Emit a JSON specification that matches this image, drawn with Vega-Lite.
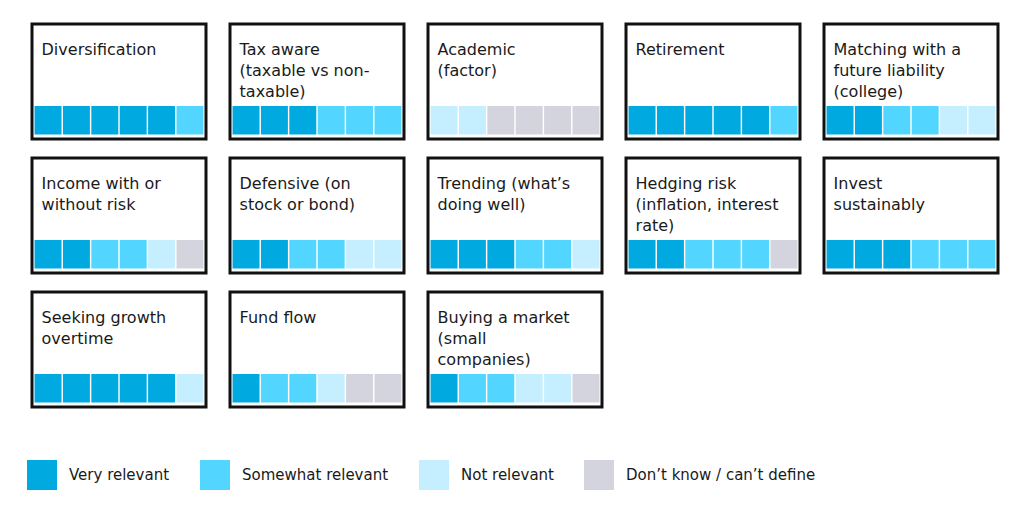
{
  "$schema": "https://vega.github.io/schema/vega-lite/v6.json",
  "padding": {"left": 27, "top": 22, "right": 0, "bottom": 0},
  "background": "white",
  "config": {
    "view": {"stroke": "#111111", "strokeWidth": 3},
    "font": "DejaVu Sans"
  },
  "data": {"values": [
    {"card": 1, "label": "Diversification", "pos": 1, "level": "Very relevant"},
    {"card": 1, "label": "Diversification", "pos": 2, "level": "Very relevant"},
    {"card": 1, "label": "Diversification", "pos": 3, "level": "Very relevant"},
    {"card": 1, "label": "Diversification", "pos": 4, "level": "Very relevant"},
    {"card": 1, "label": "Diversification", "pos": 5, "level": "Very relevant"},
    {"card": 1, "label": "Diversification", "pos": 6, "level": "Somewhat relevant"},
    {"card": 2, "label": "Tax aware\n(taxable vs non-\ntaxable)", "pos": 1, "level": "Very relevant"},
    {"card": 2, "label": "Tax aware\n(taxable vs non-\ntaxable)", "pos": 2, "level": "Very relevant"},
    {"card": 2, "label": "Tax aware\n(taxable vs non-\ntaxable)", "pos": 3, "level": "Very relevant"},
    {"card": 2, "label": "Tax aware\n(taxable vs non-\ntaxable)", "pos": 4, "level": "Somewhat relevant"},
    {"card": 2, "label": "Tax aware\n(taxable vs non-\ntaxable)", "pos": 5, "level": "Somewhat relevant"},
    {"card": 2, "label": "Tax aware\n(taxable vs non-\ntaxable)", "pos": 6, "level": "Somewhat relevant"},
    {"card": 3, "label": "Academic\n(factor)", "pos": 1, "level": "Not relevant"},
    {"card": 3, "label": "Academic\n(factor)", "pos": 2, "level": "Not relevant"},
    {"card": 3, "label": "Academic\n(factor)", "pos": 3, "level": "Don’t know / can’t define"},
    {"card": 3, "label": "Academic\n(factor)", "pos": 4, "level": "Don’t know / can’t define"},
    {"card": 3, "label": "Academic\n(factor)", "pos": 5, "level": "Don’t know / can’t define"},
    {"card": 3, "label": "Academic\n(factor)", "pos": 6, "level": "Don’t know / can’t define"},
    {"card": 4, "label": "Retirement", "pos": 1, "level": "Very relevant"},
    {"card": 4, "label": "Retirement", "pos": 2, "level": "Very relevant"},
    {"card": 4, "label": "Retirement", "pos": 3, "level": "Very relevant"},
    {"card": 4, "label": "Retirement", "pos": 4, "level": "Very relevant"},
    {"card": 4, "label": "Retirement", "pos": 5, "level": "Very relevant"},
    {"card": 4, "label": "Retirement", "pos": 6, "level": "Somewhat relevant"},
    {"card": 5, "label": "Matching with a\nfuture liability\n(college)", "pos": 1, "level": "Very relevant"},
    {"card": 5, "label": "Matching with a\nfuture liability\n(college)", "pos": 2, "level": "Very relevant"},
    {"card": 5, "label": "Matching with a\nfuture liability\n(college)", "pos": 3, "level": "Somewhat relevant"},
    {"card": 5, "label": "Matching with a\nfuture liability\n(college)", "pos": 4, "level": "Somewhat relevant"},
    {"card": 5, "label": "Matching with a\nfuture liability\n(college)", "pos": 5, "level": "Not relevant"},
    {"card": 5, "label": "Matching with a\nfuture liability\n(college)", "pos": 6, "level": "Not relevant"},
    {"card": 6, "label": "Income with or\nwithout risk", "pos": 1, "level": "Very relevant"},
    {"card": 6, "label": "Income with or\nwithout risk", "pos": 2, "level": "Very relevant"},
    {"card": 6, "label": "Income with or\nwithout risk", "pos": 3, "level": "Somewhat relevant"},
    {"card": 6, "label": "Income with or\nwithout risk", "pos": 4, "level": "Somewhat relevant"},
    {"card": 6, "label": "Income with or\nwithout risk", "pos": 5, "level": "Not relevant"},
    {"card": 6, "label": "Income with or\nwithout risk", "pos": 6, "level": "Don’t know / can’t define"},
    {"card": 7, "label": "Defensive (on\nstock or bond)", "pos": 1, "level": "Very relevant"},
    {"card": 7, "label": "Defensive (on\nstock or bond)", "pos": 2, "level": "Very relevant"},
    {"card": 7, "label": "Defensive (on\nstock or bond)", "pos": 3, "level": "Somewhat relevant"},
    {"card": 7, "label": "Defensive (on\nstock or bond)", "pos": 4, "level": "Somewhat relevant"},
    {"card": 7, "label": "Defensive (on\nstock or bond)", "pos": 5, "level": "Not relevant"},
    {"card": 7, "label": "Defensive (on\nstock or bond)", "pos": 6, "level": "Not relevant"},
    {"card": 8, "label": "Trending (what’s\ndoing well)", "pos": 1, "level": "Very relevant"},
    {"card": 8, "label": "Trending (what’s\ndoing well)", "pos": 2, "level": "Very relevant"},
    {"card": 8, "label": "Trending (what’s\ndoing well)", "pos": 3, "level": "Very relevant"},
    {"card": 8, "label": "Trending (what’s\ndoing well)", "pos": 4, "level": "Somewhat relevant"},
    {"card": 8, "label": "Trending (what’s\ndoing well)", "pos": 5, "level": "Somewhat relevant"},
    {"card": 8, "label": "Trending (what’s\ndoing well)", "pos": 6, "level": "Not relevant"},
    {"card": 9, "label": "Hedging risk\n(inflation, interest\nrate)", "pos": 1, "level": "Very relevant"},
    {"card": 9, "label": "Hedging risk\n(inflation, interest\nrate)", "pos": 2, "level": "Very relevant"},
    {"card": 9, "label": "Hedging risk\n(inflation, interest\nrate)", "pos": 3, "level": "Somewhat relevant"},
    {"card": 9, "label": "Hedging risk\n(inflation, interest\nrate)", "pos": 4, "level": "Somewhat relevant"},
    {"card": 9, "label": "Hedging risk\n(inflation, interest\nrate)", "pos": 5, "level": "Somewhat relevant"},
    {"card": 9, "label": "Hedging risk\n(inflation, interest\nrate)", "pos": 6, "level": "Don’t know / can’t define"},
    {"card": 10, "label": "Invest\nsustainably", "pos": 1, "level": "Very relevant"},
    {"card": 10, "label": "Invest\nsustainably", "pos": 2, "level": "Very relevant"},
    {"card": 10, "label": "Invest\nsustainably", "pos": 3, "level": "Very relevant"},
    {"card": 10, "label": "Invest\nsustainably", "pos": 4, "level": "Somewhat relevant"},
    {"card": 10, "label": "Invest\nsustainably", "pos": 5, "level": "Somewhat relevant"},
    {"card": 10, "label": "Invest\nsustainably", "pos": 6, "level": "Somewhat relevant"},
    {"card": 11, "label": "Seeking growth\novertime", "pos": 1, "level": "Very relevant"},
    {"card": 11, "label": "Seeking growth\novertime", "pos": 2, "level": "Very relevant"},
    {"card": 11, "label": "Seeking growth\novertime", "pos": 3, "level": "Very relevant"},
    {"card": 11, "label": "Seeking growth\novertime", "pos": 4, "level": "Very relevant"},
    {"card": 11, "label": "Seeking growth\novertime", "pos": 5, "level": "Very relevant"},
    {"card": 11, "label": "Seeking growth\novertime", "pos": 6, "level": "Not relevant"},
    {"card": 12, "label": "Fund flow", "pos": 1, "level": "Very relevant"},
    {"card": 12, "label": "Fund flow", "pos": 2, "level": "Somewhat relevant"},
    {"card": 12, "label": "Fund flow", "pos": 3, "level": "Somewhat relevant"},
    {"card": 12, "label": "Fund flow", "pos": 4, "level": "Not relevant"},
    {"card": 12, "label": "Fund flow", "pos": 5, "level": "Don’t know / can’t define"},
    {"card": 12, "label": "Fund flow", "pos": 6, "level": "Don’t know / can’t define"},
    {"card": 13, "label": "Buying a market\n(small\ncompanies)", "pos": 1, "level": "Very relevant"},
    {"card": 13, "label": "Buying a market\n(small\ncompanies)", "pos": 2, "level": "Somewhat relevant"},
    {"card": 13, "label": "Buying a market\n(small\ncompanies)", "pos": 3, "level": "Somewhat relevant"},
    {"card": 13, "label": "Buying a market\n(small\ncompanies)", "pos": 4, "level": "Not relevant"},
    {"card": 13, "label": "Buying a market\n(small\ncompanies)", "pos": 5, "level": "Not relevant"},
    {"card": 13, "label": "Buying a market\n(small\ncompanies)", "pos": 6, "level": "Don’t know / can’t define"}
  ]},
  "facet": {"field": "card", "type": "ordinal",
            "header": {"title": null, "labelExpr": "''", "labelFontSize": 0, "labelPadding": 0, "labels": false}},
  "columns": 5,
  "spacing": {"column": 20, "row": 15},
  "spec": {
    "width": 174,
    "height": 115,
    "layer": [
      {
        "mark": {"type": "rect", "strokeWidth": 0},
        "encoding": {
          "x": {"field": "pos", "type": "ordinal", "axis": null,
                "scale": {"paddingInner": 0.05, "paddingOuter": 0.09}},
          "y": {"datum": 33, "type": "quantitative", "axis": null,
                "scale": {"domain": [0, 115], "nice": false, "zero": false}},
          "y2": {"datum": 4.5},
          "color": {"field": "level", "type": "nominal",
            "scale": {
              "domain": ["Very relevant", "Somewhat relevant", "Not relevant", "Don’t know / can’t define"],
              "range": ["#00A9E0", "#52D6FF", "#C5EFFF", "#D4D4DE"]
            },
            "legend": {
              "title": null,
              "orient": "none",
              "legendX": -5,
              "legendY": 436,
              "direction": "horizontal",
              "symbolType": "square",
              "symbolSize": 900,
              "symbolStrokeWidth": 0,
              "symbolOpacity": 1,
              "labelFontSize": 15,
              "labelColor": "#1a1a1a",
              "labelOffset": 12,
              "columnPadding": 30,
              "labelLimit": 300
            }
          }
        }
      },
      {
        "transform": [{"filter": "datum.pos == 1"}],
        "mark": {"type": "text", "align": "left", "baseline": "alphabetic", "lineBreak": "\n",
                 "lineHeight": 21, "fontSize": 16, "color": "#1a1a1a", "dx": 7},
        "encoding": {
          "x": {"field": "pos", "type": "ordinal", "bandPosition": 0},
          "y": {"datum": 84.5, "type": "quantitative"},
          "text": {"field": "label"}
        }
      }
    ]
  }
}
